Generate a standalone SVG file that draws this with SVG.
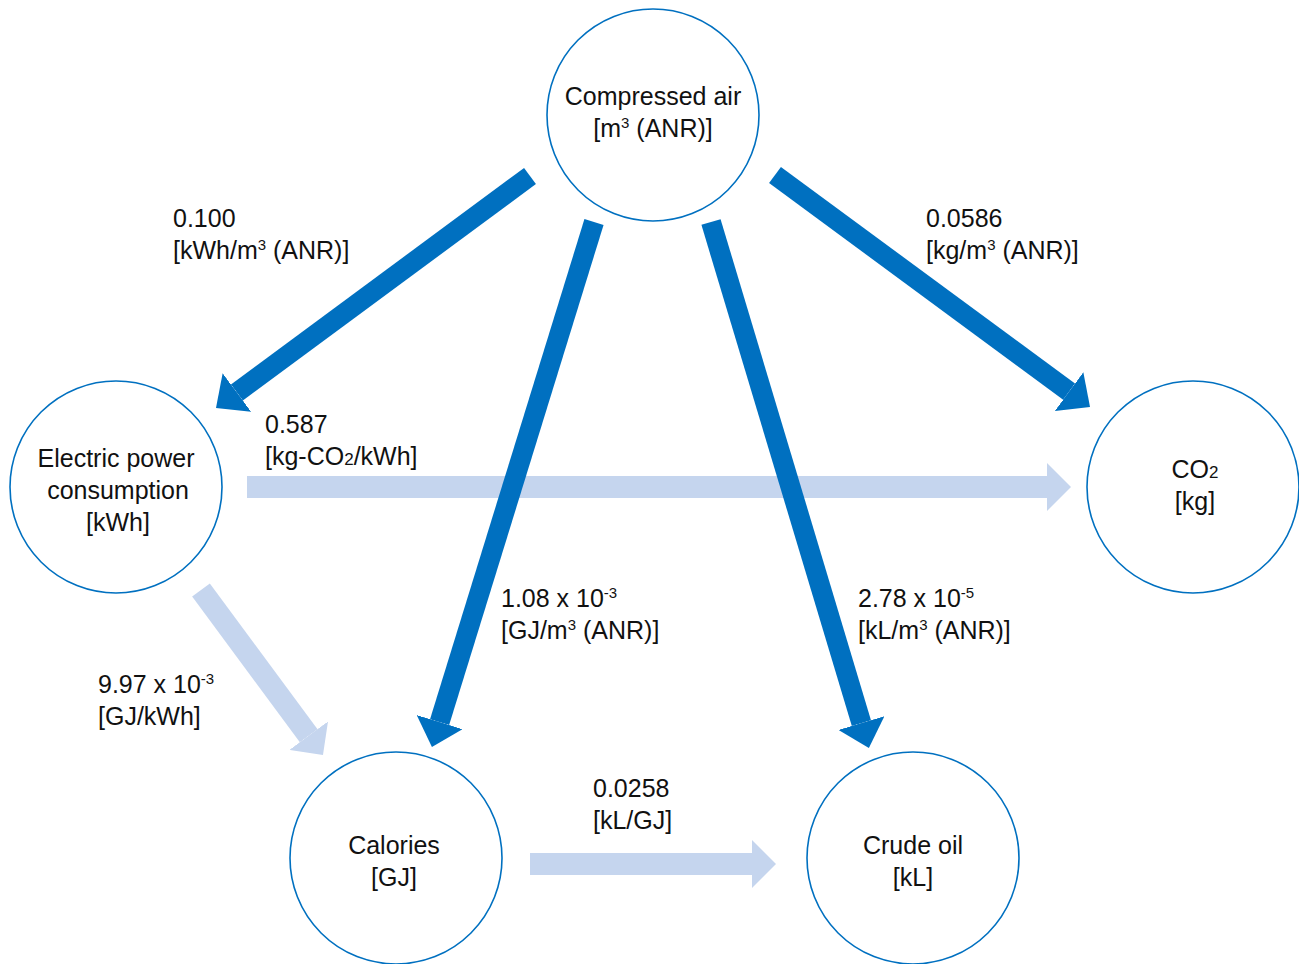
<svg xmlns="http://www.w3.org/2000/svg" width="1299" height="964" viewBox="0 0 1299 964">
<style>
  .node{fill:#fff;stroke:#0070C0;stroke-width:1.6}
  text{font-family:"Liberation Sans",Arial,Helvetica,sans-serif;font-size:25px;fill:#111}
  .c{text-anchor:middle}
  .dark{stroke:#0070C0;stroke-width:20;fill:none}
  .light{stroke:#C5D5EE;stroke-width:22;fill:none}
</style>
<defs>
  <marker id="hd" markerUnits="userSpaceOnUse" markerWidth="26" markerHeight="48" viewBox="0 0 26 48" refX="0" refY="24" orient="auto">
    <path d="M0,0 L26,24 L0,48 z" fill="#0070C0"/>
  </marker>
  <marker id="hl" markerUnits="userSpaceOnUse" markerWidth="24" markerHeight="48" viewBox="0 0 24 48" refX="0" refY="24" orient="auto">
    <path d="M0,0 L24,24 L0,48 z" fill="#C5D5EE"/>
  </marker>
</defs>
<g id="connectors">
  <line class="light" x1="247" y1="487" x2="1047" y2="487" marker-end="url(#hl)"/>
  <line class="light" x1="201" y1="590" x2="308.7" y2="735.7" marker-end="url(#hl)"/>
  <line class="light" x1="530" y1="864" x2="752" y2="864" marker-end="url(#hl)"/>
  <line class="dark" x1="530" y1="176" x2="236.9" y2="392.5" marker-end="url(#hd)"/>
  <line class="dark" x1="594" y1="222" x2="439.6" y2="722.1" marker-end="url(#hd)"/>
  <line class="dark" x1="711" y1="222" x2="861.4" y2="723.1" marker-end="url(#hd)"/>
  <line class="dark" x1="775" y1="175" x2="1069.1" y2="391.6" marker-end="url(#hd)"/>
</g>
<g id="labels">
  <text x="173" y="227">0.100</text>
  <text x="173" y="259">[kWh/m<tspan font-size="15" dy="-9">3</tspan><tspan dy="9"> (ANR)]</tspan></text>
  <text x="926" y="227">0.0586</text>
  <text x="926" y="259">[kg/m<tspan font-size="15" dy="-9">3</tspan><tspan dy="9"> (ANR)]</tspan></text>
  <text x="265" y="433">0.587</text>
  <text x="265" y="465">[kg-CO<tspan font-size="17">2</tspan>/kWh]</text>
  <text x="501" y="607">1.08 x 10<tspan font-size="15" dy="-9">-3</tspan></text>
  <text x="501" y="639">[GJ/m<tspan font-size="15" dy="-9">3</tspan><tspan dy="9"> (ANR)]</tspan></text>
  <text x="858" y="607">2.78 x 10<tspan font-size="15" dy="-9">-5</tspan></text>
  <text x="858" y="639">[kL/m<tspan font-size="15" dy="-9">3</tspan><tspan dy="9"> (ANR)]</tspan></text>
  <text x="98" y="693">9.97 x 10<tspan font-size="15" dy="-9">-3</tspan></text>
  <text x="98" y="725">[GJ/kWh]</text>
  <text x="593" y="797">0.0258</text>
  <text x="593" y="829">[kL/GJ]</text>
</g>
<g id="compressed-air">
  <circle class="node" cx="653" cy="115" r="106"/>
  <text class="c" x="653" y="105">Compressed air</text>
  <text class="c" x="653" y="137">[m<tspan font-size="15" dy="-9">3</tspan><tspan dy="9"> (ANR)]</tspan></text>
</g>
<g id="electric-power">
  <circle class="node" cx="116" cy="487" r="106"/>
  <text class="c" x="116" y="467">Electric power</text>
  <text class="c" x="118" y="499">consumption</text>
  <text class="c" x="118" y="531">[kWh]</text>
</g>
<g id="co2">
  <circle class="node" cx="1193" cy="487" r="106"/>
  <text class="c" x="1195" y="478">CO<tspan font-size="17">2</tspan></text>
  <text class="c" x="1195" y="510">[kg]</text>
</g>
<g id="calories">
  <circle class="node" cx="396" cy="858" r="106"/>
  <text class="c" x="394" y="854">Calories</text>
  <text class="c" x="394" y="886">[GJ]</text>
</g>
<g id="crude-oil">
  <circle class="node" cx="913" cy="858" r="106"/>
  <text class="c" x="913" y="854">Crude oil</text>
  <text class="c" x="913" y="886">[kL]</text>
</g>
</svg>
